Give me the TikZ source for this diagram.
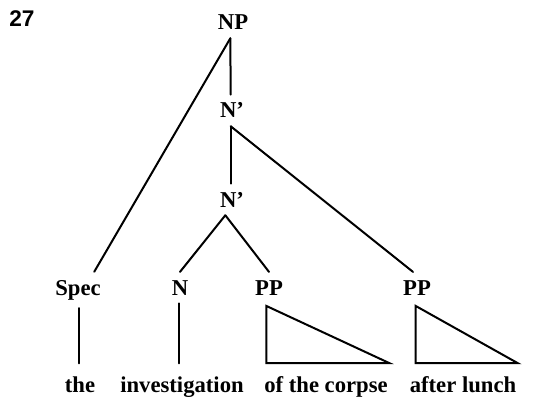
\documentclass[tikz,border=0pt]{standalone}
\usepackage{fontspec}
\setmainfont{Liberation Serif}
\setsansfont{Liberation Sans}
\begin{document}
\begin{tikzpicture}[x=0.75pt,y=-0.75pt,
  cat/.style={anchor=base,inner xsep=0pt,inner ysep=6pt,font=\fontsize{17}{20}\selectfont\bfseries},
  word/.style={anchor=base,inner xsep=0pt,inner ysep=9.5pt,font=\fontsize{17}{20}\selectfont\bfseries},
  branch/.style={line width=1.5pt,line cap=round},
  roof/.style={line width=1.5pt,line join=miter}]
\useasboundingbox (0,0) rectangle (535,399);

% example number
\node[anchor=base,inner sep=0pt,font=\fontsize{17}{20}\selectfont\sffamily\bfseries] (num) at (22,27) {27};

% category labels
\node[cat] (NP)   at (233,30)  {NP};
\node[cat] (Nb1)  at (232,118) {N’};
\node[cat] (Nb2)  at (232,207) {N’};
\node[cat] (Spec) at (78,295)  {Spec};
\node[cat] (N)    at (180,295) {N};
\node[cat] (PPa)  at (269,295) {PP};
\node[cat] (PPb)  at (417,295) {PP};

% terminal strings
\node[word] (the)  at (80,392)  {the};
\node[word] (inv)  at (182,392) {investigation};
\node[word] (otc)  at (326,392) {of the corpse};
\node[word] (al)   at (463,392) {after lunch};

% branches
\draw[branch] ([xshift=-2pt]NP.south) -- ([xshift=-1pt]Nb1.north);
\draw[branch] ([xshift=-2pt]NP.south) -- ([xshift=-5pt]Spec.north east);
\draw[branch] ([xshift=-1pt]Nb1.south) -- ([xshift=-1pt]Nb2.north);
\draw[branch] ([xshift=-1pt]Nb1.south) -- ([xshift=-3pt]PPb.north);
\draw[branch] ([xshift=-5pt]Nb2.south) -- (N.north);
\draw[branch] ([xshift=-5pt]Nb2.south) -- (PPa.north);
\draw[branch] ([xshift=0.5pt]Spec.south) -- ([xshift=0.5pt]Spec.south |- the.north);
\draw[branch] ([xshift=-1pt]N.south) -- ([xshift=-1pt]N.south |- inv.north);

% roofs over phrasal constituents
\draw[roof] ([xshift=-2pt,yshift=-2pt]PPa.south) -- ([xshift=-2pt]PPa.south |- otc.north)
  -- ++(123,0) -- cycle;
\draw[roof] ([xshift=-1pt,yshift=-2pt]PPb.south) -- ([xshift=-1pt]PPb.south |- al.north)
  -- ++(102,0) -- cycle;
\end{tikzpicture}
\end{document}
